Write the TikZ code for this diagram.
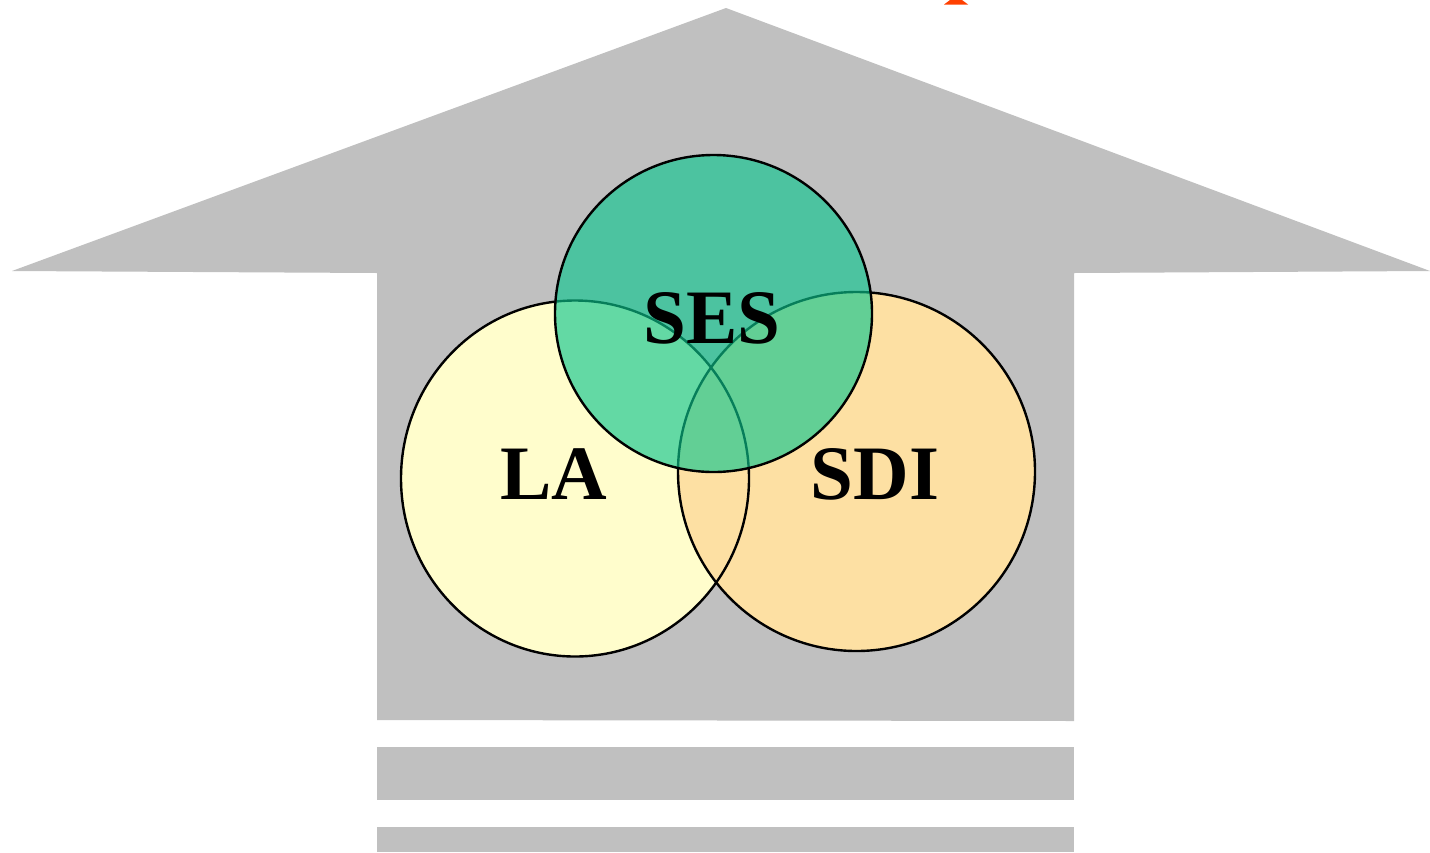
\documentclass[tikz,border=0pt]{standalone}
\usepackage{fontspec}
\setmainfont{Liberation Serif}
\definecolor{housegray}{RGB}{192,192,192}
\definecolor{layellow}{RGB}{255,253,204}
\definecolor{sdiorange}{RGB}{253,224,163}
\definecolor{sesgreen}{RGB}{11,198,142}
\definecolor{redmark}{RGB}{255,64,0}
\tikzset{
  house/.style={fill=housegray, draw=none},
  circout/.style={draw=black, line width=1.2pt},
  lbl/.style={font=\bfseries\fontsize{38.5}{40}\selectfont, text=black, inner sep=0pt},
}
\begin{document}
\begin{tikzpicture}[x=0.5pt,y=-0.5pt]
\useasboundingbox (0,0) rectangle (1430,852);
\fill[white] (0,0) rectangle (1430,852);
% red fragment at top
\fill[redmark] (944,4.5) -- (950,0) -- (962,0) -- (968,4.5) -- cycle;
% house arrow
\path[house] (726,8) -- (1430,271) -- (1074,273) -- (1074,721) -- (377,720) -- (377,273) -- (12,271) -- cycle;
\path[house] (377,747) rectangle (1074,800);
\path[house] (377,827) rectangle (1074,852);
% circles fills
\fill[layellow] (575,478.5) ellipse [x radius=174, y radius=178];
\fill[sdiorange] (856.5,471.5) ellipse [x radius=178.5, y radius=179.5];
% outlines
\draw[circout] (575,478.5) ellipse [x radius=174, y radius=178];
\draw[circout] (856.5,471.5) ellipse [x radius=178.5, y radius=179.5];
% SES
\fill[sesgreen, fill opacity=0.64] (713.5,313.5) circle [radius=158.5];
\draw[circout] (713.5,313.5) circle [radius=158.5];
% labels
\node[lbl] (la) at (554,474) {LA};
\node[lbl] (ses) at (712,318) {SES};
\node[lbl] (sdi) at (875,474) {SDI};
\end{tikzpicture}
\end{document}
